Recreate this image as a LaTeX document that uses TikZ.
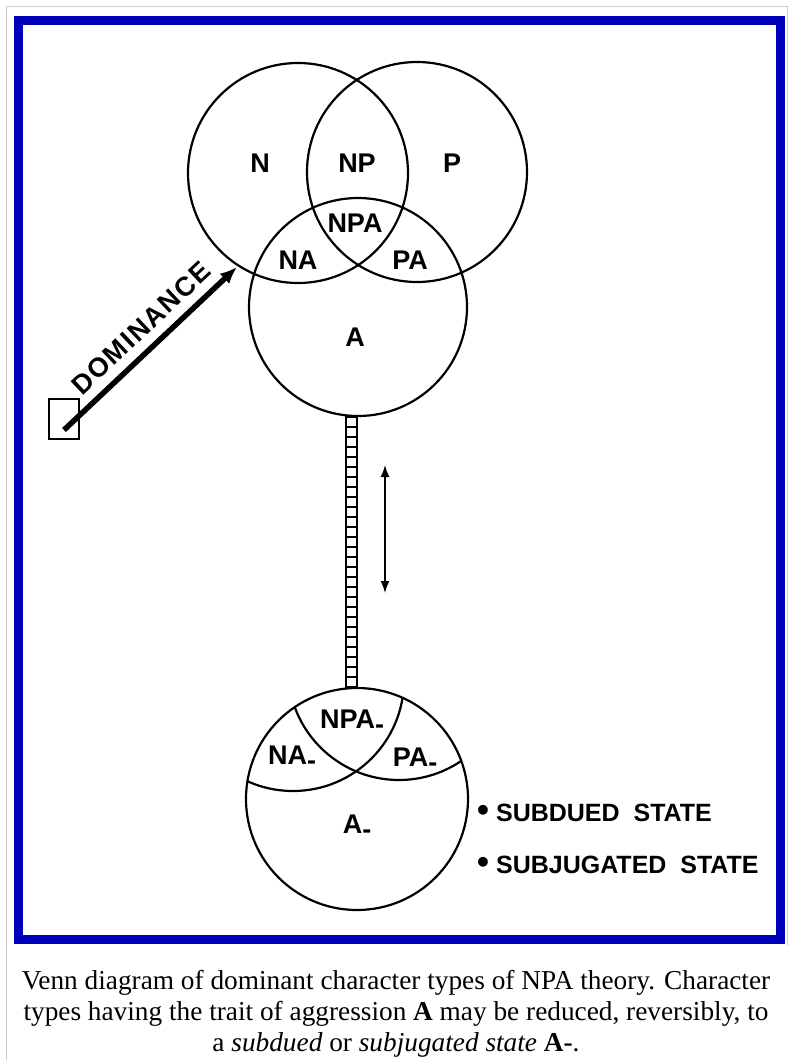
\documentclass[tikz,border=0pt]{standalone}
\usepackage{fontspec}
\usetikzlibrary{arrows.meta}
\setmainfont{Liberation Serif}
\setsansfont{Liberation Sans}
\definecolor{framebl}{RGB}{0,0,187}
\definecolor{edgegr}{RGB}{205,205,205}
\newcommand{\lowminus}{\raisebox{-0.2em}{-}}
\newcommand{\bigdot}{{\fontsize{34}{34}\selectfont\textbullet}\hspace{7pt}}

\begin{document}
\begin{tikzpicture}[x=1pt,y=-1pt,
    ring/.style={circle,draw,line width=2.2pt,inner sep=0pt},
    tag/.style={font=\sffamily\bfseries\fontsize{27}{27}\selectfont,inner sep=0pt},
    note/.style={font=\sffamily\bfseries\fontsize{25}{25}\selectfont,inner sep=0pt,anchor=west}]
  \useasboundingbox (0,0) rectangle (792,1060);
  % frame
  \draw[edgegr,line width=1pt] (6,1060) -- (6,6) -- (787,6) -- (787,945);
  \draw[framebl,line width=9pt] (18.5,20.5) rectangle (780,939.5);

  % top venn
  \node[ring,minimum size=220pt] (N) at (298,173) {};
  \node[ring,minimum size=220pt] (P) at (417,172) {};
  \node[ring,minimum size=218pt] (A) at (358,307) {};
  \node[tag] (n) at (260,163) {N};
  \node[tag] (np) at (357,163) {NP};
  \node[tag] (p) at (452,163) {P};
  \node[tag] (npa) at (355,223) {NPA};
  \node[tag] (na) at (298,260) {NA};
  \node[tag] (pa) at (410,260) {PA};
  \node[tag] (a) at (355,337) {A};

  % dominance
  \node[draw,line width=1.6pt,minimum width=30pt,minimum height=40pt] (box) at (64,419) {};
  \coordinate (hit) at (237,267);
  \draw[-{Latex[length=17pt,width=14pt]},line width=5.5pt] ([yshift=-11pt]box.center) -- (hit)
      node[tag,pos=.53,sloped,above=9pt] (dom) {\addfontfeature{LetterSpace=6}DOMINANCE};

  % bottom venn
  \node[ring,minimum size=222pt] (Am) at (357,799) {};
  \begin{scope}
    \clip (357,799) circle[radius=111pt];
    \draw[line width=2.2pt] (293,680) circle[radius=111pt];
    \draw[line width=2.2pt] (399,669) circle[radius=111pt];
  \end{scope}
  \node[tag] (npam) at (352,722) {NPA\lowminus};
  \node[tag] (nam) at (292,758) {NA\lowminus};
  \node[tag] (pam) at (415,760) {PA\lowminus};
  \node[tag] (am) at (357,827) {A\lowminus};

  % ladder
  \draw[line width=1.8pt] (346,0 |- A.south) rectangle (357,0 |- Am.north);
  \foreach \y in {427,437,...,680}
      \draw[line width=1.8pt] (346,\y) -- (357,\y);
  \coordinate (up) at (385,465);
  \coordinate (dn) at (385,593);
  \draw[{Latex[length=12pt,width=9pt]}-{Latex[length=12pt,width=9pt]},line width=1.5pt] (up) -- (dn);

  \node[note] (sub1) at (477,813) {\bigdot SUBDUED\ \ STATE};
  \node[note] (sub2) at (477,865) {\bigdot SUBJUGATED\ \ STATE};

  % caption
  \node[font=\fontsize{27.3}{31}\selectfont,align=center,inner sep=0pt] (cap) at (396,1014)
      {Venn diagram of dominant character types of NPA theory. Character\\
       types having the trait of aggression \textbf{A} may be reduced, reversibly, to\\
       a \emph{subdued} or \emph{subjugated state} \textbf{A-}.};
\end{tikzpicture}
\end{document}
